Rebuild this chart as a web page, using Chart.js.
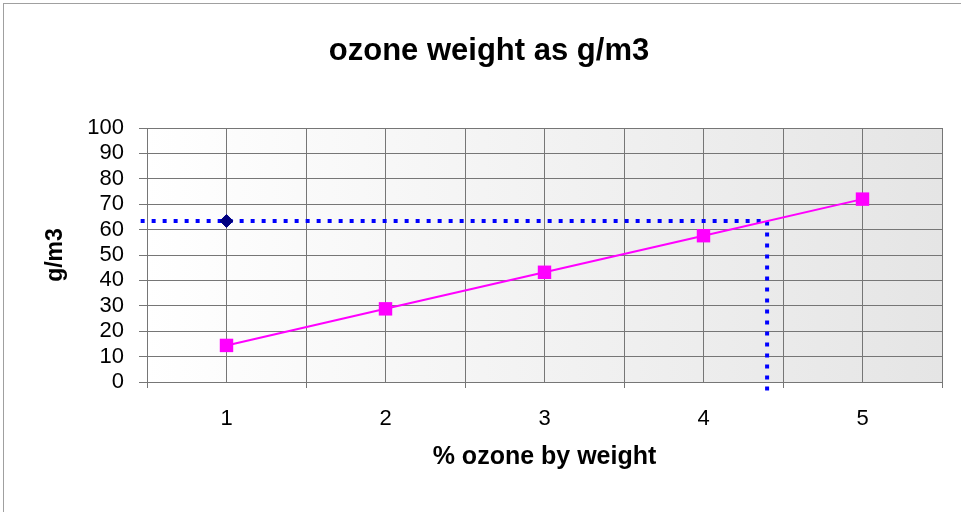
<!DOCTYPE html>
<html>
<head>
<meta charset="utf-8">
<script src="https://cdn.jsdelivr.net/npm/chart.js@4.4.1/dist/chart.umd.min.js"></script>
<style>
  html, body { margin: 0; padding: 0; background: #fff; }
  #wrap { position: relative; width: 961px; height: 512px; overflow: hidden; }
  #frame { position: absolute; left: 3px; top: 3px; width: 1000px; height: 600px;
           border-left: 1px solid #a0a0a0; border-top: 1px solid #a0a0a0; }
  canvas { position: absolute; left: 0; top: 0; }
</style>
</head>
<body>
<div id="wrap">
  <div id="frame"></div>
  <canvas id="chart" width="961" height="512"></canvas>
</div>
<script>
// % ozone by weight and the matching g/m3 values
const ozonePercent = [1, 2, 3, 4, 5];
const ozoneGm3 = [14.4, 28.8, 43.2, 57.6, 72];

// single marker at 63.4 g/m3
const markerX = [1];
const markerY = [63.4];

// dotted read-off line: across at 63.4, down at 4.4 %
const guideX = [0.46, 4.4, 4.4];
const guideY = [63.4, 63.4, -4];

const toPoints = (xs, ys) => xs.map((x, i) => ({ x: x, y: ys[i] }));

const FONT = 'Liberation Sans, Arial, sans-serif';
const gridColor = '#767676';

// Fill the plot area with a left-to-right grey gradient
const plotBackground = {
    id: 'plotBackground',
    beforeDraw(chart) {
        const { ctx, chartArea } = chart;
        const g = ctx.createLinearGradient(chartArea.left, 0, chartArea.right, 0);
        g.addColorStop(0, '#ffffff');
        g.addColorStop(1, '#e5e5e5');
        ctx.save();
        ctx.fillStyle = g;
        ctx.fillRect(chartArea.left, chartArea.top, chartArea.right - chartArea.left, chartArea.bottom - chartArea.top);
        ctx.restore();
    }
};

// The title sits a little right of the canvas centre in the original
const titleShift = {
    id: 'titleShift',
    afterLayout(chart) {
        if (chart.titleBlock) {
            chart.titleBlock.left = 36;
            chart.titleBlock.right = 942;
        }
    }
};

new Chart(document.getElementById('chart'), {
    type: 'line',
    data: {
        datasets: [
            {
                label: 'g/m3',
                data: toPoints(ozonePercent, ozoneGm3),
                borderColor: '#ff00ff',
                backgroundColor: '#ff00ff',
                borderWidth: 2,
                pointStyle: 'rect',
                pointRadius: 9.5,
                pointBorderWidth: 0,
                tension: 0,
                order: 0
            },
            {
                label: 'marker',
                data: toPoints(markerX, markerY),
                showLine: false,
                pointStyle: 'rectRot',
                pointRadius: 6.5,
                pointBackgroundColor: '#000080',
                pointBorderColor: '#000080',
                pointBorderWidth: 1,
                order: 1
            },
            {
                label: 'guide',
                data: toPoints(guideX, guideY),
                borderColor: '#0000ff',
                borderWidth: 4,
                borderDash: [4, 7],
                borderCapStyle: 'butt',
                pointRadius: 0,
                tension: 0,
                clip: false,
                order: 2
            }
        ]
    },
    options: {
        responsive: false,
        animation: false,
        events: [],
        layout: { padding: { left: 0, right: 19, top: 0, bottom: 0 } },
        plugins: {
            legend: { display: false },
            tooltip: { enabled: false },
            title: {
                display: true,
                text: 'ozone weight as g/m3',
                color: '#000',
                font: { family: FONT, size: 31, weight: 'bold' },
                padding: { top: 32.7, bottom: 58.1 }
            }
        },
        scales: {
            x: {
                type: 'linear',
                min: 0.5,
                max: 5.5,
                afterFit(scale) { scale.height = 130; },
                ticks: {
                    stepSize: 0.5,
                    autoSkip: false,
                    maxRotation: 0,
                    padding: 17.5,
                    color: '#000',
                    font: { family: FONT, size: 22 },
                    callback: v => Number.isInteger(v) ? String(v) : ''
                },
                grid: {
                    color: gridColor,
                    lineWidth: 1,
                    tickLength: 6,
                    tickColor: c => (c.tick && Number.isInteger(c.tick.value)) ? 'rgba(0,0,0,0)' : gridColor
                },
                border: { color: gridColor },
                title: {
                    display: true,
                    text: '% ozone by weight',
                    color: '#000',
                    font: { family: FONT, size: 25, weight: 'bold' },
                    padding: { top: 0, bottom: 40 }
                }
            },
            y: {
                type: 'linear',
                min: 0,
                max: 100,
                afterFit(scale) { scale.width = 147; },
                ticks: {
                    stepSize: 10,
                    autoSkip: false,
                    padding: 15,
                    color: '#000',
                    font: { family: FONT, size: 22 }
                },
                grid: {
                    color: gridColor,
                    lineWidth: 1,
                    tickLength: 8
                },
                border: { color: gridColor },
                title: {
                    display: true,
                    text: 'g/m3',
                    color: '#000',
                    font: { family: FONT, size: 23, weight: 'bold' },
                    padding: { top: 41.5, bottom: 0 }
                }
            }
        }
    },
    plugins: [plotBackground, titleShift]
});
</script>
</body>
</html>
